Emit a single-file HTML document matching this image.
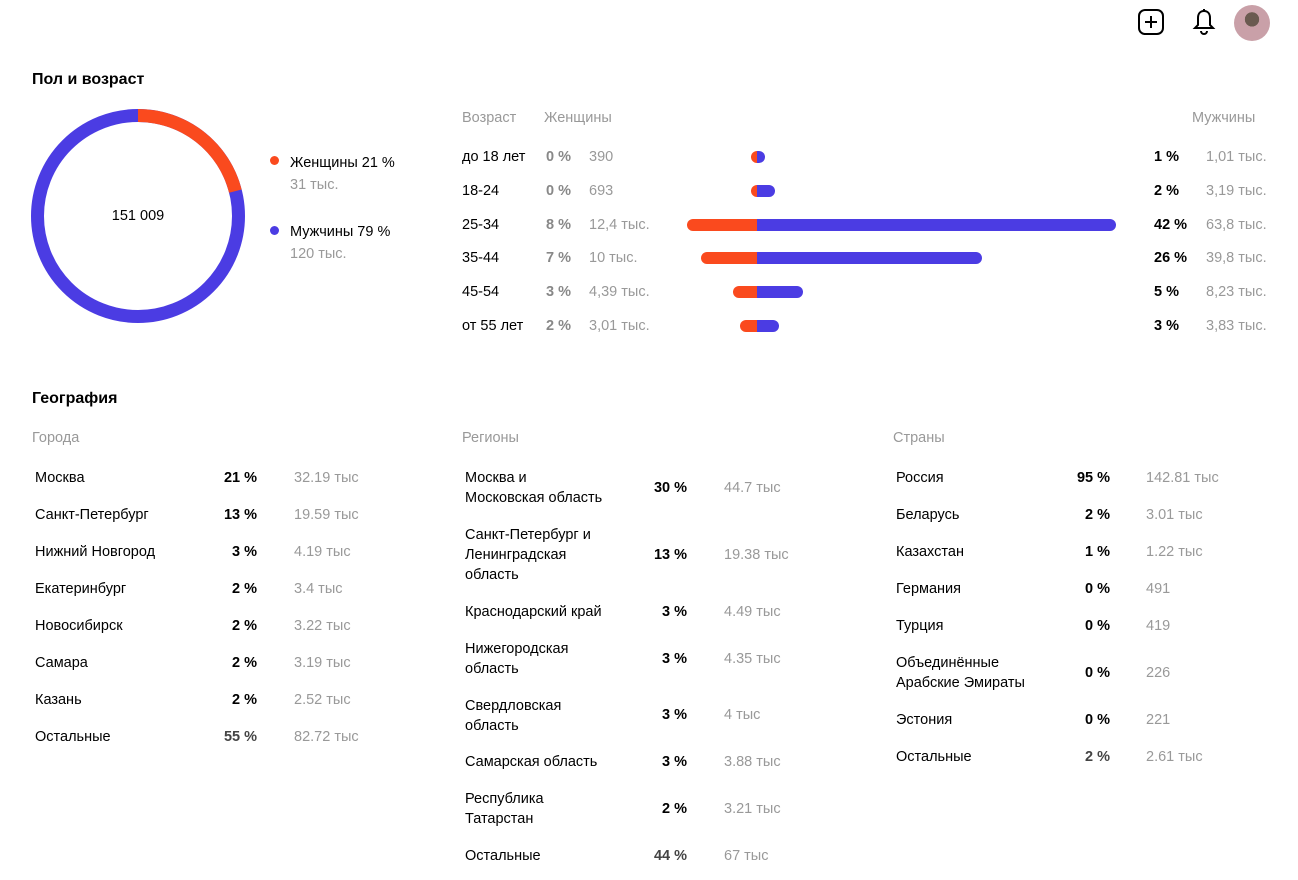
<!DOCTYPE html>
<html><head><meta charset="utf-8"><style>
body{margin:0;width:1298px;height:880px;background:#fff;font-family:"Liberation Sans",sans-serif;color:#000;position:relative;overflow:hidden}
.a{position:absolute;white-space:nowrap;font-size:14.5px;line-height:20px}
.g{color:#999}
.b{font-weight:bold}
.h{font-size:16px;font-weight:bold}
.r{text-align:right}
.bar{position:absolute;height:12px}
.f{background:#fa4a1e;border-radius:6px 0 0 6px}
.m{background:#4b3ce3;border-radius:0 6px 6px 0}
</style></head><body>
<svg style="position:absolute;left:1136px;top:8px" width="30" height="28" viewBox="0 0 30 28"><rect x="3" y="2" width="24" height="24" rx="6" fill="none" stroke="#000" stroke-width="2"/><path d="M15 8v12M9 14h12" stroke="#000" stroke-width="2"/></svg>
<svg style="position:absolute;left:1192px;top:8px" width="24" height="28" viewBox="0 0 24 28"><path d="M12 3c-4 0-6 3-6 7v7l-3 3h18l-3-3v-7c0-4-2-7-6-7z" fill="none" stroke="#000" stroke-width="2"/><path d="M9 23a3 3 0 006 0" fill="none" stroke="#000" stroke-width="2"/><path d="M12 1v2" stroke="#000" stroke-width="2"/></svg>
<div style="position:absolute;left:1234px;top:5px;width:36px;height:36px;border-radius:50%;background:radial-gradient(circle at 50% 40%,#6a5a50 0 25%,#c9a0a8 26%)"></div>

<div class="a h" style="left:32px;top:70px">Пол и возраст</div>
<svg style="position:absolute;left:30px;top:108px" width="216" height="216"><g transform="rotate(-90 108 108)"><circle cx="108" cy="108" r="100.5" fill="none" stroke="#4b3ce3" stroke-width="13"/><circle cx="108" cy="108" r="100.5" fill="none" stroke="#fa4a1e" stroke-width="13" stroke-dasharray="132.6 600"/></g></svg>
<div class="a" style="left:108px;top:206px;width:60px;text-align:center">151 009</div>
<div style="position:absolute;left:270px;top:156px;width:9px;height:9px;border-radius:50%;background:#fa4a1e"></div>
<div class="a" style="left:290px;top:153px">Женщины 21 %</div>
<div class="a g" style="left:290px;top:175px">31 тыс.</div>
<div style="position:absolute;left:270px;top:226px;width:9px;height:9px;border-radius:50%;background:#4b3ce3"></div>
<div class="a" style="left:290px;top:222px">Мужчины 79 %</div>
<div class="a g" style="left:290px;top:244px">120 тыс.</div>

<div class="a g" style="left:462px;top:108px">Возраст</div>
<div class="a g" style="left:544px;top:108px">Женщины</div>
<div class="a g" style="left:1192px;top:108px">Мужчины</div>

<div class="a" style="left:462px;top:147px">до 18 лет</div><div class="a b" style="left:546px;top:147px;color:#888">0 %</div><div class="a g" style="left:589px;top:147px">390</div>
<div class="bar f" style="left:751px;top:151px;width:6px"></div><div class="bar m" style="left:757px;top:151px;width:8px"></div>
<div class="a b" style="left:1154px;top:147px">1 %</div><div class="a g" style="left:1206px;top:147px">1,01 тыс.</div>

<div class="a" style="left:462px;top:181px">18-24</div><div class="a b" style="left:546px;top:181px;color:#888">0 %</div><div class="a g" style="left:589px;top:181px">693</div>
<div class="bar f" style="left:751px;top:185px;width:6px"></div><div class="bar m" style="left:757px;top:185px;width:18px"></div>
<div class="a b" style="left:1154px;top:181px">2 %</div><div class="a g" style="left:1206px;top:181px">3,19 тыс.</div>

<div class="a" style="left:462px;top:215px">25-34</div><div class="a b" style="left:546px;top:215px;color:#888">8 %</div><div class="a g" style="left:589px;top:215px">12,4 тыс.</div>
<div class="bar f" style="left:687px;top:219px;width:70px"></div><div class="bar m" style="left:757px;top:219px;width:359px"></div>
<div class="a b" style="left:1154px;top:215px">42 %</div><div class="a g" style="left:1206px;top:215px">63,8 тыс.</div>

<div class="a" style="left:462px;top:248px">35-44</div><div class="a b" style="left:546px;top:248px;color:#888">7 %</div><div class="a g" style="left:589px;top:248px">10 тыс.</div>
<div class="bar f" style="left:701px;top:252px;width:56px"></div><div class="bar m" style="left:757px;top:252px;width:225px"></div>
<div class="a b" style="left:1154px;top:248px">26 %</div><div class="a g" style="left:1206px;top:248px">39,8 тыс.</div>

<div class="a" style="left:462px;top:282px">45-54</div><div class="a b" style="left:546px;top:282px;color:#888">3 %</div><div class="a g" style="left:589px;top:282px">4,39 тыс.</div>
<div class="bar f" style="left:733px;top:286px;width:24px"></div><div class="bar m" style="left:757px;top:286px;width:46px"></div>
<div class="a b" style="left:1154px;top:282px">5 %</div><div class="a g" style="left:1206px;top:282px">8,23 тыс.</div>

<div class="a" style="left:462px;top:316px">от 55 лет</div><div class="a b" style="left:546px;top:316px;color:#888">2 %</div><div class="a g" style="left:589px;top:316px">3,01 тыс.</div>
<div class="bar f" style="left:740px;top:320px;width:17px"></div><div class="bar m" style="left:757px;top:320px;width:22px"></div>
<div class="a b" style="left:1154px;top:316px">3 %</div><div class="a g" style="left:1206px;top:316px">3,83 тыс.</div>

<div class="a h" style="left:32px;top:389px">География</div>
<div class="a g" style="left:32px;top:428px">Города</div>
<div class="a g" style="left:462px;top:428px">Регионы</div>
<div class="a g" style="left:893px;top:428px">Страны</div>

<div class="a" style="left:35px;top:468px">Москва</div><div class="a b r" style="left:200px;width:57px;top:468px">21 %</div><div class="a g" style="left:294px;top:468px">32.19 тыс</div>
<div class="a" style="left:35px;top:505px">Санкт-Петербург</div><div class="a b r" style="left:200px;width:57px;top:505px">13 %</div><div class="a g" style="left:294px;top:505px">19.59 тыс</div>
<div class="a" style="left:35px;top:542px">Нижний Новгород</div><div class="a b r" style="left:200px;width:57px;top:542px">3 %</div><div class="a g" style="left:294px;top:542px">4.19 тыс</div>
<div class="a" style="left:35px;top:579px">Екатеринбург</div><div class="a b r" style="left:200px;width:57px;top:579px">2 %</div><div class="a g" style="left:294px;top:579px">3.4 тыс</div>
<div class="a" style="left:35px;top:616px">Новосибирск</div><div class="a b r" style="left:200px;width:57px;top:616px">2 %</div><div class="a g" style="left:294px;top:616px">3.22 тыс</div>
<div class="a" style="left:35px;top:653px">Самара</div><div class="a b r" style="left:200px;width:57px;top:653px">2 %</div><div class="a g" style="left:294px;top:653px">3.19 тыс</div>
<div class="a" style="left:35px;top:690px">Казань</div><div class="a b r" style="left:200px;width:57px;top:690px">2 %</div><div class="a g" style="left:294px;top:690px">2.52 тыс</div>
<div class="a" style="left:35px;top:727px">Остальные</div><div class="a b r" style="left:200px;width:57px;top:727px;color:#444">55 %</div><div class="a g" style="left:294px;top:727px">82.72 тыс</div>

<div class="a" style="left:465px;top:468px">Москва и<br>Московская область</div><div class="a b r" style="left:630px;width:57px;top:478px">30 %</div><div class="a g" style="left:724px;top:478px">44.7 тыс</div>
<div class="a" style="left:465px;top:525px">Санкт-Петербург и<br>Ленинградская<br>область</div><div class="a b r" style="left:630px;width:57px;top:545px">13 %</div><div class="a g" style="left:724px;top:545px">19.38 тыс</div>
<div class="a" style="left:465px;top:602px">Краснодарский край</div><div class="a b r" style="left:630px;width:57px;top:602px">3 %</div><div class="a g" style="left:724px;top:602px">4.49 тыс</div>
<div class="a" style="left:465px;top:639px">Нижегородская<br>область</div><div class="a b r" style="left:630px;width:57px;top:649px">3 %</div><div class="a g" style="left:724px;top:649px">4.35 тыс</div>
<div class="a" style="left:465px;top:696px">Свердловская<br>область</div><div class="a b r" style="left:630px;width:57px;top:705px">3 %</div><div class="a g" style="left:724px;top:705px">4 тыс</div>
<div class="a" style="left:465px;top:752px">Самарская область</div><div class="a b r" style="left:630px;width:57px;top:752px">3 %</div><div class="a g" style="left:724px;top:752px">3.88 тыс</div>
<div class="a" style="left:465px;top:789px">Республика<br>Татарстан</div><div class="a b r" style="left:630px;width:57px;top:799px">2 %</div><div class="a g" style="left:724px;top:799px">3.21 тыс</div>
<div class="a" style="left:465px;top:846px">Остальные</div><div class="a b r" style="left:630px;width:57px;top:846px;color:#444">44 %</div><div class="a g" style="left:724px;top:846px">67 тыс</div>

<div class="a" style="left:896px;top:468px">Россия</div><div class="a b r" style="left:1053px;width:57px;top:468px">95 %</div><div class="a g" style="left:1146px;top:468px">142.81 тыс</div>
<div class="a" style="left:896px;top:505px">Беларусь</div><div class="a b r" style="left:1053px;width:57px;top:505px">2 %</div><div class="a g" style="left:1146px;top:505px">3.01 тыс</div>
<div class="a" style="left:896px;top:542px">Казахстан</div><div class="a b r" style="left:1053px;width:57px;top:542px">1 %</div><div class="a g" style="left:1146px;top:542px">1.22 тыс</div>
<div class="a" style="left:896px;top:579px">Германия</div><div class="a b r" style="left:1053px;width:57px;top:579px">0 %</div><div class="a g" style="left:1146px;top:579px">491</div>
<div class="a" style="left:896px;top:616px">Турция</div><div class="a b r" style="left:1053px;width:57px;top:616px">0 %</div><div class="a g" style="left:1146px;top:616px">419</div>
<div class="a" style="left:896px;top:653px">Объединённые<br>Арабские Эмираты</div><div class="a b r" style="left:1053px;width:57px;top:663px">0 %</div><div class="a g" style="left:1146px;top:663px">226</div>
<div class="a" style="left:896px;top:710px">Эстония</div><div class="a b r" style="left:1053px;width:57px;top:710px">0 %</div><div class="a g" style="left:1146px;top:710px">221</div>
<div class="a" style="left:896px;top:747px">Остальные</div><div class="a b r" style="left:1053px;width:57px;top:747px;color:#444">2 %</div><div class="a g" style="left:1146px;top:747px">2.61 тыс</div>
</body></html>
